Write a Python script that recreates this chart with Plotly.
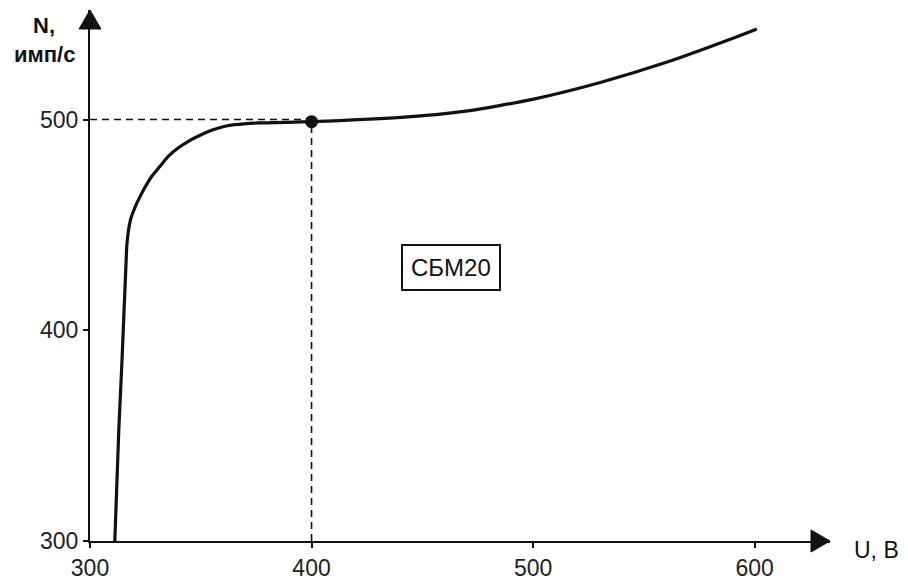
import plotly.graph_objects as go

# Data
voltage_U = [311.2, 313.0, 314.4, 316.2, 316.7, 318.3, 320.5, 321.9, 324.2, 327.9,
             331.6, 335.4, 339.9, 344.4, 350.4, 354.9, 360.9, 365.4, 375.9, 400.0,
             440.4, 470.5, 500.2, 530.3, 560.5, 590.2, 601.0]
count_N = [300.0, 352.7, 384.6, 430.3, 441.4, 452.5, 458.8, 462.0, 466.7, 473.1,
           477.8, 482.6, 486.6, 489.7, 492.9, 494.9, 496.8, 497.6, 498.4, 499.0,
           501.0, 504.1, 509.7, 517.6, 527.3, 538.6, 543.0]
work_point_U = [400]
work_point_N = [499]
x_ticks = [300, 400, 500, 600]
y_ticks = [300, 400, 500]
x_range = [300, 634]
y_range = [300, 552]
label_box = "СБМ20"

FONT = "Liberation Sans, Arial, sans-serif"
INK = "#111111"

fig = go.Figure()

# dashed guide lines to the working point
fig.add_trace(go.Scatter(x=[x_range[0], work_point_U[0]], y=[500, 500], mode="lines",
                         line=dict(color=INK, width=1.6, dash="7px,5px"),
                         hoverinfo="skip", showlegend=False))
fig.add_trace(go.Scatter(x=[work_point_U[0], work_point_U[0]], y=[y_range[0], work_point_N[0]],
                         mode="lines", line=dict(color=INK, width=1.6, dash="7px,5px"),
                         hoverinfo="skip", showlegend=False))

# characteristic curve
fig.add_trace(go.Scatter(x=voltage_U, y=count_N, mode="lines",
                         line=dict(color=INK, width=3.2, shape="spline", smoothing=0.6),
                         showlegend=False))
# working point
fig.add_trace(go.Scatter(x=work_point_U, y=work_point_N, mode="markers",
                         marker=dict(color=INK, size=13), showlegend=False))

axis_common = dict(showgrid=False, zeroline=False, showline=True, linecolor=INK,
                   linewidth=2.2, ticks="outside", ticklen=5, tickwidth=1.5,
                   tickcolor=INK, automargin=False,
                   tickfont=dict(family=FONT, size=23, color="#222222"))

fig.update_xaxes(range=x_range, tickvals=x_ticks, ticktext=[str(v) for v in x_ticks],
                 **axis_common)
fig.update_yaxes(range=y_range, tickvals=y_ticks, ticktext=[str(v) for v in y_ticks],
                 **axis_common)

# arrow heads at the ends of axes
fig.add_shape(type="path", xref="paper", yref="paper", xsizemode="pixel", ysizemode="pixel",
              xanchor=1, yanchor=0, path="M -19,-11 L 0,0 L -19,11 Z",
              fillcolor=INK, line=dict(color=INK, width=1), layer="above")
fig.add_shape(type="path", xref="paper", yref="paper", xsizemode="pixel", ysizemode="pixel",
              xanchor=0, yanchor=1, path="M -11,-19 L 0,0 L 11,-19 Z",
              fillcolor=INK, line=dict(color=INK, width=1), layer="above")

# axis titles
fig.add_annotation(xref="paper", yref="paper", x=0, y=1, xanchor="center", yanchor="middle",
                   xshift=-46, yshift=-15, text="<b>N,</b>", showarrow=False,
                   font=dict(family=FONT, size=22, color=INK))
fig.add_annotation(xref="paper", yref="paper", x=0, y=1, xanchor="center", yanchor="middle",
                   xshift=-46, yshift=-44, text="<b>имп/с</b>", showarrow=False,
                   font=dict(family=FONT, size=22, color=INK))
fig.add_annotation(xref="paper", yref="paper", x=1, y=0, xanchor="left", yanchor="middle",
                   xshift=22, yshift=-9, text="U, В", showarrow=False,
                   font=dict(family=FONT, size=23, color=INK))

# label box
fig.add_annotation(x=463, y=430, text=label_box, showarrow=False,
                   font=dict(family=FONT, size=24, color=INK),
                   bordercolor=INK, borderwidth=2, borderpad=8, bgcolor="white")

fig.update_layout(width=908, height=582, paper_bgcolor="white", plot_bgcolor="white",
                  margin=dict(l=90, r=78, t=10, b=41, autoexpand=False), showlegend=False)

fig.write_html("out.html", config={"displayModeBar": False},
               post_script="document.body.style.margin='0px';document.body.style.overflow='hidden';")
